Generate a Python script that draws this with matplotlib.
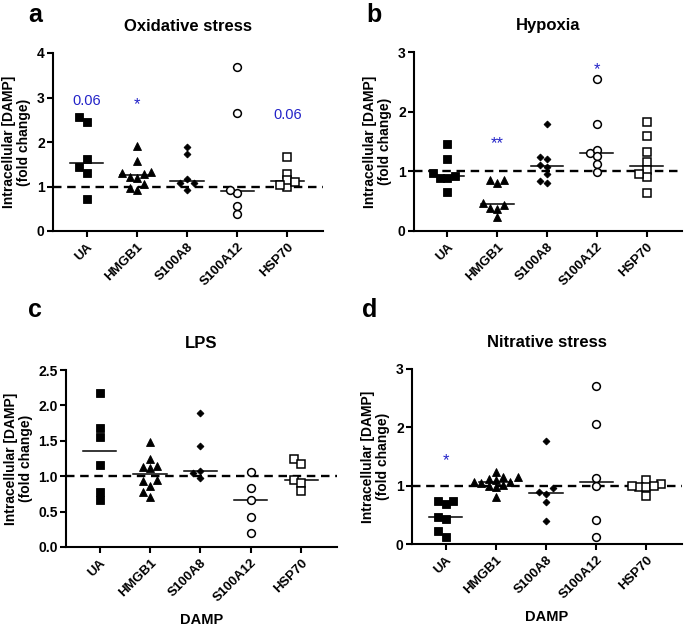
import numpy as np
import matplotlib
matplotlib.use("Agg")
import matplotlib.pyplot as plt

plt.rcParams['font.family'] = ['Liberation Sans', 'DejaVu Sans']

categories = ["UA", "HMGB1", "S100A8", "S100A12", "HSP70"]

# ---- data (fold change) ----
ox_UA      = [2.44, 2.57, 1.62, 1.43, 1.31, 0.71]
ox_HMGB1   = [1.92, 1.57, 1.29, 1.31, 1.20, 1.22, 1.33, 0.93, 1.05, 0.97]
ox_S100A8  = [1.89, 1.74, 1.16, 0.93, 1.07, 1.07]
ox_S100A12 = [3.68, 2.65, 0.86, 0.92, 0.56, 0.39]
ox_HSP70   = [1.66, 1.29, 0.99, 1.14, 1.03, 1.10]

hy_UA      = [1.45, 1.21, 0.98, 0.89, 0.88, 0.93, 0.66]
hy_HMGB1   = [0.85, 0.85, 0.80, 0.47, 0.39, 0.43, 0.37, 0.23]
hy_S100A8  = [1.80, 1.24, 1.21, 1.11, 1.07, 0.96, 0.80, 0.83]
hy_S100A12 = [2.54, 1.80, 1.31, 1.36, 1.25, 1.12, 0.99]
hy_HSP70   = [1.82, 1.59, 1.32, 1.16, 1.02, 0.91, 0.95, 0.64]

lps_UA      = [2.17, 1.68, 1.56, 1.16, 0.77, 0.66]
lps_HMGB1   = [1.48, 1.24, 1.13, 1.15, 1.12, 0.95, 0.86, 0.93, 0.71, 0.78]
lps_S100A8  = [1.89, 1.43, 1.08, 0.98, 1.05]
lps_S100A12 = [1.06, 0.84, 0.67, 0.43, 0.20]
lps_HSP70   = [1.24, 1.17, 0.95, 0.91, 0.79]

ni_UA      = [0.74, 0.69, 0.74, 0.43, 0.46, 0.22, 0.12]
ni_HMGB1   = [1.24, 1.06, 1.15, 1.15, 1.12, 1.10, 1.04, 1.00, 1.02, 0.97, 0.80, 1.07]
ni_S100A8  = [1.77, 0.96, 0.90, 0.86, 0.72, 0.40]
ni_S100A12 = [2.71, 2.06, 1.13, 1.00, 0.41, 0.12]
ni_HSP70   = [1.10, 0.98, 1.03, 0.97, 1.00, 0.83, 1.00]

titles = ["Oxidative stress", "Hypoxia", "LPS", "Nitrative stress"]
letters = ["a", "b", "c", "d"]
ymax = [4, 3, 2.5, 3]
yticks = [[0, 1, 2, 3, 4], [0, 1, 2, 3], [0.0, 0.5, 1.0, 1.5, 2.0, 2.5], [0, 1, 2, 3]]
ytick_labels = [["0", "1", "2", "3", "4"], ["0", "1", "2", "3"],
                ["0.0", "0.5", "1.0", "1.5", "2.0", "2.5"], ["0", "1", "2", "3"]]

# significance annotations: (category index, y, text)
annot_ox = [(0, 2.92, "0.06"), (1, 2.83, "*"), (4, 2.61, "0.06")]
annot_hy = [(1, 1.47, "**"), (3, 2.71, "*")]
annot_lps = []
annot_ni = [(0, 1.43, "*")]

panels = [
    [ox_UA, ox_HMGB1, ox_S100A8, ox_S100A12, ox_HSP70],
    [hy_UA, hy_HMGB1, hy_S100A8, hy_S100A12, hy_HSP70],
    [lps_UA, lps_HMGB1, lps_S100A8, lps_S100A12, lps_HSP70],
    [ni_UA, ni_HMGB1, ni_S100A8, ni_S100A12, ni_HSP70],
]
annots = [annot_ox, annot_hy, annot_lps, annot_ni]

# ---- styles ----
W, H = 685, 630
fig = plt.figure(figsize=(W / 100, H / 100), dpi=100)
# axes boxes in pixels: left, top, width, height
boxes = [(53, 53, 270, 178), (414, 52, 268, 179), (66, 370, 271, 177), (412, 369, 270, 175)]
xlim = (-0.67, 4.71)
BLUE = "#2323c8"
marker_styles = [
    dict(marker="s", ms=5.2, mfc="black", mec="black", mew=0.6),
    dict(marker="^", ms=5.6, mfc="black", mec="black", mew=0.6),
    dict(marker="D", ms=3.5, mfc="black", mec="black", mew=0.6),
    dict(marker="o", ms=5.6, mfc="white", mec="black", mew=1.1),
    dict(marker="s", ms=5.2, mfc="white", mec="black", mew=1.1),
]


def swarm(values, px_x, px_y, diam=6.8, step=0.145):
    vals = np.asarray(values, dtype=float)
    order = np.argsort(vals)
    placed = []
    offs = np.zeros(len(vals))
    cands = [0.0]
    for k in range(1, 12):
        cands += [-k * step, k * step]
    for i in order:
        for c in cands:
            ok = True
            for (ox, oy) in placed:
                dx = (c - ox) * px_x
                dy = (vals[i] - oy) * px_y
                if dx * dx + dy * dy < diam * diam * 0.92:
                    ok = False
                    break
            if ok:
                offs[i] = c
                placed.append((c, vals[i]))
                break
    return offs


for p in range(4):
    l, t, w, h = boxes[p]
    ax = fig.add_axes([l / W, 1 - (t + h) / H, w / W, h / H])
    ax.set_xlim(*xlim)
    ax.set_ylim(0, ymax[p])
    px_x = w / (xlim[1] - xlim[0])
    px_y = h / ymax[p]
    ax.axhline(1.0, color="black", lw=1.7, dashes=(3.6, 2.4), zorder=1)
    for ci, vals in enumerate(panels[p]):
        offs = swarm(vals, px_x, px_y)
        ax.plot(ci + offs, vals, ls="none", zorder=3, clip_on=False, **marker_styles[ci])
        med = np.median(vals)
        ax.plot([ci - 0.33, ci + 0.33], [med, med], color="black", lw=1.1, zorder=2)
    for (ci, yv, txt) in annots[p]:
        if txt.startswith("0"):
            ax.text(ci, yv, txt, color=BLUE, fontsize=10.5, ha="center", va="center")
        else:
            ax.text(ci, yv, txt, color=BLUE, fontsize=12, ha="center", va="center")
    for s in ["top", "right"]:
        ax.spines[s].set_visible(False)
    for s in ["left", "bottom"]:
        ax.spines[s].set_linewidth(1.5)
    ax.set_xticks(range(len(categories)))
    ax.set_xticklabels(categories, rotation=45, ha="right", rotation_mode="anchor",
                       fontsize=9.5, fontweight="bold")
    ax.set_yticks(yticks[p])
    ax.set_yticklabels(ytick_labels[p], fontsize=10, fontweight="bold")
    ax.tick_params(direction="out", length=4, width=1.5, pad=2)
    ax.tick_params(axis="x", pad=3)
    ax.set_ylabel("Intracellular [DAMP]\n(fold change)", fontsize=10, fontweight="bold",
                  linespacing=1.1, labelpad=4)
    ax.set_title(titles[p], fontsize=12, fontweight="bold", pad=16)
    if p >= 2:
        ax.set_xlabel("DAMP", fontsize=10.5, fontweight="bold", labelpad=6)

# panel letters
fig.text(28 / W, 1 - 22 / H, "a", fontsize=18, fontweight="bold", ha="left", va="baseline")
fig.text(366 / W, 1 - 22 / H, "b", fontsize=18, fontweight="bold", ha="left", va="baseline")
fig.text(28 / W, 1 - 317 / H, "c", fontsize=18, fontweight="bold", ha="left", va="baseline")
fig.text(362 / W, 1 - 317 / H, "d", fontsize=18, fontweight="bold", ha="left", va="baseline")

fig.savefig("out.png", dpi=100)
